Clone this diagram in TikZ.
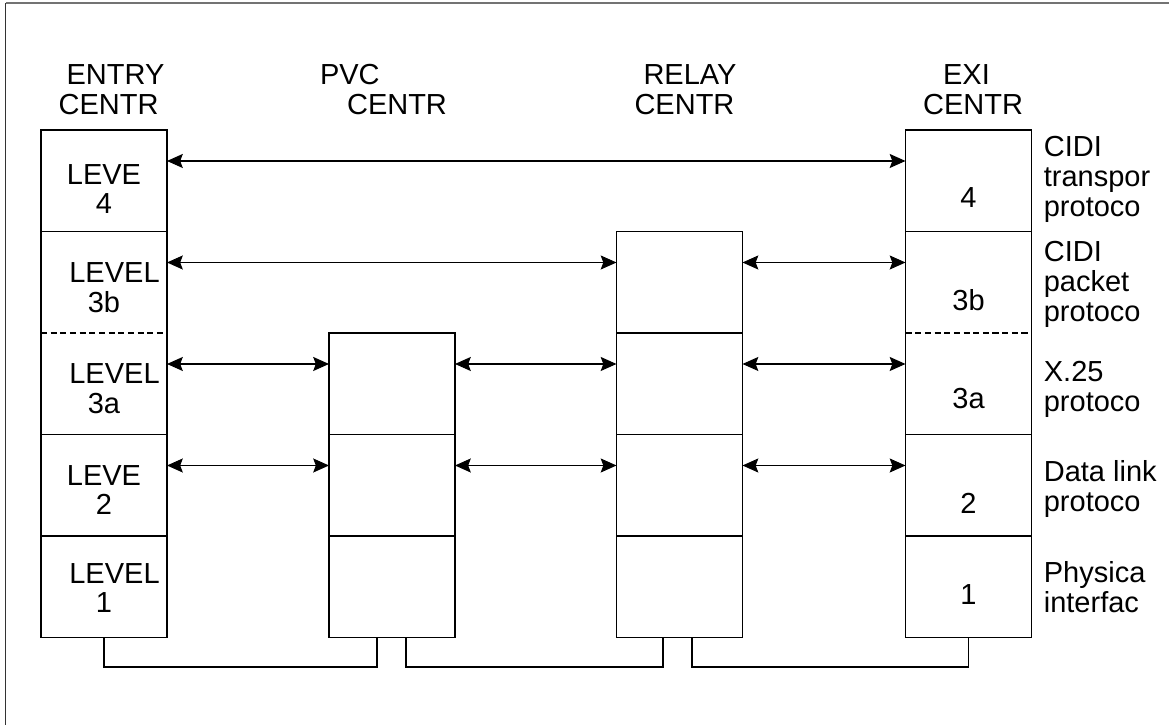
\documentclass[tikz,border=0pt]{standalone}
\usepackage{fontspec}
\setmainfont{Liberation Sans}
\usetikzlibrary{arrows.meta,positioning}

\tikzset{
  cell/.style={minimum width=2.52cm,minimum height=2.03cm,inner sep=0pt,outer sep=0pt},
  box/.style={line width=1.1pt},
  link/.style={line width=0.6pt,{Stealth[length=9pt,width=8pt,inset=1.5pt]}-{Stealth[length=9pt,width=8pt,inset=1.5pt]}},
  wire/.style={line width=0.7pt},
  head/.style={align=left,inner sep=0pt,anchor=south},
  txt/.style={align=center,inner sep=0pt},
  side/.style={align=left,inner sep=0pt},
}

\begin{document}
\begin{tikzpicture}[font=\fontsize{16.5}{17}\selectfont]
  \useasboundingbox (0,0) rectangle (23.38,14.5);
  % frame
  \draw[line width=0.9pt,black!80] (0.11,0) -- (0.11,14.44);
  \draw[line width=0.6pt,black!55] (0.11,14.44) -- (23.38,14.44);

  % cells of the four centres
  \foreach \r/\y in {1/10.885,2/8.855,3/6.825,4/4.795,5/2.765} {
    \node[cell] (en\r) at (2.08,\y) {};
    \node[cell] (ex\r) at (19.37,\y) {};
  }
  \foreach \r/\y in {2/8.855,3/6.825,4/4.795,5/2.765}
    \node[cell] (re\r) at (13.59,\y) {};
  \foreach \r/\y in {3/6.825,4/4.795,5/2.765}
    \node[cell] (pv\r) at (7.84,\y) {};

  \draw[box] (en1.north west) rectangle (en5.south east);
  \draw[box] (pv3.north west) rectangle (pv5.south east);
  \draw[box] (re2.north west) rectangle (re5.south east);
  \draw[box] (ex1.north west) rectangle (ex5.south east);
  \foreach \c/\r in {en/1,en/3,en/4,ex/1,ex/3,ex/4,re/2,re/3,re/4,pv/3,pv/4}
    \draw[box] (\c\r.south west) -- (\c\r.south east);
  \foreach \c in {en,ex}
    \draw[box,dash pattern=on 3.5pt off 2pt] (\c2.south west) -- (\c2.south east);

  % headings
  \node[head] (hen) at (2.23,12.2) {\hspace*{0.16cm}ENTRY\\CENTR};
  \node[head] (hpv) at (7.67,12.2) {PVC\\\hspace*{0.54cm}CENTR};
  \node[head] (hre) at (13.71,12.2) {\hspace*{0.18cm}RELAY\\CENTR};
  \node[head] (hex) at (19.46,12.2) {\hspace*{0.4cm}EXI\\CENTR};

  % levels
  \node[txt] (t1) at (2.08,10.72) {LEVE\\4};
  \node[txt] (t2) at (2.08,8.75) {\hspace*{0.42cm}LEVEL\\3b};
  \node[txt] (t3) at (2.08,6.72) {\hspace*{0.42cm}LEVEL\\3a};
  \node[txt] (t4) at (2.08,4.70) {LEVE\\2};
  \node[txt] (t5) at (2.08,2.74) {\hspace*{0.42cm}LEVEL\\1};

  \node[txt] (d1) at (19.37,10.55) {4};
  \node[txt] (d2) at (19.37,8.50) {3b};
  \node[txt] (d3) at (19.37,6.52) {3a};
  \node[txt] (d4) at (19.37,4.44) {2};
  \node[txt] (d5) at (19.37,2.60) {1};

  \node[side,right=0.24cm of ex1,yshift=0.03cm] (s1) {CIDI\\transpor\\protoco};
  \node[side,right=0.24cm of ex2,yshift=-0.05cm] (s2) {CIDI\\packet\\protoco};
  \node[side,right=0.24cm of ex3,yshift=-0.11cm] (s3) {X.25\\protoco};
  \node[side,right=0.24cm of ex4,yshift=-0.08cm] (s4) {Data link\\protoco};
  \node[side,right=0.24cm of ex5] (s5) {Physica\\interfac};

  % peer arrows
  \draw[link] ([yshift=-0.62cm]en1.north east) -- ([yshift=-0.62cm]ex1.north west);
  \draw[link] ([yshift=-0.62cm]en2.north east) -- ([yshift=-0.62cm]re2.north west);
  \draw[link] ([yshift=-0.62cm]re2.north east) -- ([yshift=-0.62cm]ex2.north west);
  \foreach \r in {3,4} {
    \draw[link] ([yshift=-0.62cm]en\r.north east) -- ([yshift=-0.62cm]pv\r.north west);
    \draw[link] ([yshift=-0.62cm]pv\r.north east) -- ([yshift=-0.62cm]re\r.north west);
    \draw[link] ([yshift=-0.62cm]re\r.north east) -- ([yshift=-0.62cm]ex\r.north west);
  }

  % physical links
  \draw[wire] (en5.south) -- ++(0,-0.59) -| ([xshift=-0.3cm]pv5.south);
  \draw[wire] ([xshift=0.28cm]pv5.south) -- ++(0,-0.59) -| ([xshift=-0.33cm]re5.south);
  \draw[wire] ([xshift=0.25cm]re5.south) -- ++(0,-0.59) -| (ex5.south);
\end{tikzpicture}
\end{document}
